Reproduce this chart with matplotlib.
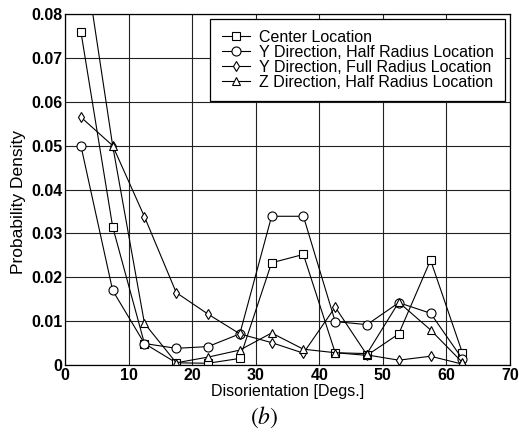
import numpy as np
import matplotlib
matplotlib.use("Agg")
import matplotlib.pyplot as plt

plt.rcParams['font.family'] = ['Liberation Sans', 'DejaVu Sans']

# bin centres of the disorientation histogram
angles = [2.5, 7.5, 12.5, 17.5, 22.5, 27.5, 32.5, 37.5, 42.5, 47.5, 52.5, 57.5, 62.5]

center = [0.076, 0.0315, 0.0049, 0.0005, 0.0004, 0.0015, 0.0233, 0.0252,
          0.0028, 0.0022, 0.0071, 0.0239, 0.0028]
y_half = [0.050, 0.017, 0.0049, 0.0038, 0.0042, 0.0071, 0.0339, 0.0339,
          0.0099, 0.0092, 0.0142, 0.0118, 0.0014]
y_full = [0.0565, 0.050, 0.0338, 0.0165, 0.0116, 0.0071, 0.0051, 0.0027,
          0.0132, 0.0023, 0.0011, 0.0020, 0.0002]
z_half = [0.098, 0.050, 0.0095, 0.0005, 0.0018, 0.0034, 0.0073, 0.0036,
          0.0028, 0.0026, 0.0143, 0.0080, 0.0006]

labels = ["Center Location", "Y Direction, Half Radius Location",
          "Y Direction, Full Radius Location", "Z Direction, Half Radius Location"]
markers = ['s', 'o', 'd', '^']
msizes = [5.5, 6.5, 5.5, 6]

fig = plt.figure(figsize=(5.19, 4.42), dpi=100)
ax = fig.add_axes([0.1252, 0.1742, 0.8575, 0.7941])

for vals, lab, m, s in zip([center, y_half, y_full, z_half], labels, markers, msizes):
    ax.plot(angles, vals, color='black', lw=0.8, marker=m, ms=s,
            mfc='white', mec='black', mew=0.8, label=lab)

ax.set_xlim(0, 70)
ax.set_ylim(0, 0.08)
ax.set_xticks(np.arange(0, 71, 10))
ax.set_yticks(np.arange(0, 0.081, 0.01))
ax.set_yticklabels(['0', '0.01', '0.02', '0.03', '0.04', '0.05', '0.06', '0.07', '0.08'])
ax.grid(True, color='#222222', lw=0.8)
ax.tick_params(direction='in', length=0, labelsize=11.5, pad=2)
for t in ax.get_xticklabels() + ax.get_yticklabels():
    t.set_fontweight('bold')
for s in ax.spines.values():
    s.set_linewidth(0.9)

ax.set_xlabel("Disorientation [Degs.]", fontsize=11.5, labelpad=1)
ax.set_ylabel("Probability Density", fontsize=12.5)
ax.yaxis.set_label_coords(-0.088, 0.464)

leg = ax.legend(loc='upper right', fontsize=11.5, fancybox=False, framealpha=1,
                edgecolor='black', borderaxespad=0.3, handlelength=1.75,
                handletextpad=0.6, labelspacing=0.0, borderpad=0.7)
leg.get_frame().set_linewidth(0.9)

fig.text(0.51, 0.055, r'$(b)$', ha='center', va='center', fontsize=17,
         math_fontfamily='stix')

fig.savefig("out.png", dpi=100)
